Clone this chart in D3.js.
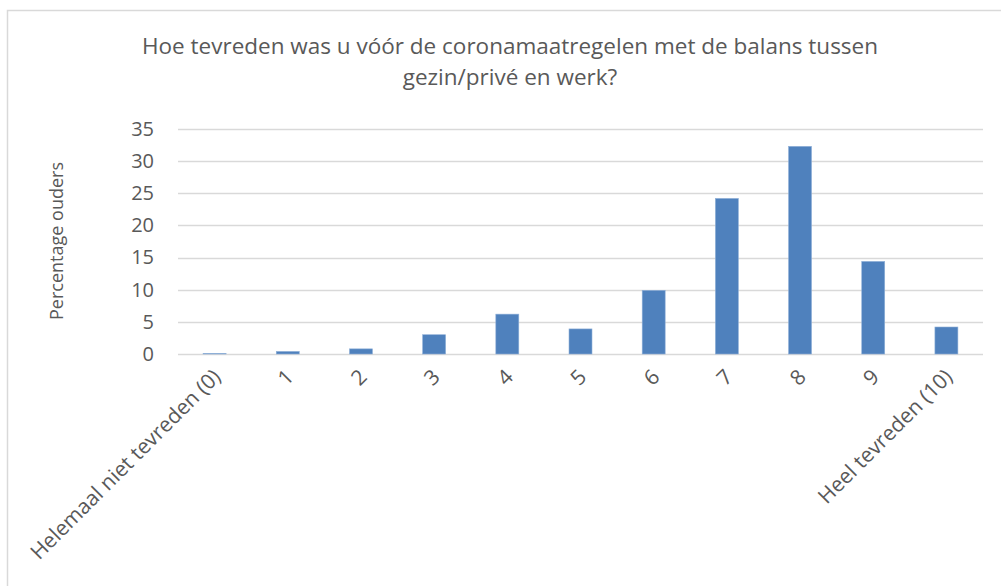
<!DOCTYPE html>
<html>
<head>
<meta charset="utf-8">
<script src="https://cdn.jsdelivr.net/npm/d3@7"></script>
<style>
	body { margin: 0; background: #fff; }
	svg text { font-family: "Open Sans", sans-serif; fill: #595959; }
</style>
</head>
<body>
<svg id="chart" width="1001" height="586"></svg>
<script>
// data
const categories = ["Helemaal niet tevreden (0)", "1", "2", "3", "4", "5", "6", "7", "8", "9", "Heel tevreden (10)"];
const values = [0.1, 0.4, 0.8, 3.0, 6.2, 3.9, 9.9, 24.2, 32.3, 14.4, 4.2];
const yTicks = [0, 5, 10, 15, 20, 25, 30, 35];
const titleLines = ["Hoe tevreden was u vóór de coronamaatregelen met de balans tussen", "gezin/privé en werk?"];
const yTitle = "Percentage ouders";

// definicion
const plot = { left: 178, right: 983, top: 129, bottom: 354 };

const svg = d3.select('#chart');

// chart border
svg.append('rect')
	.attr('x', 7.5)
	.attr('y', 10.5)
	.attr('width', 1020)
	.attr('height', 600)
	.attr('fill', 'none')
	.attr('stroke', '#d9d9d9')
	.attr('stroke-width', 1.5);

const x = d3.scaleBand()
	.domain(categories)
	.range([plot.left, plot.right])
	.paddingInner(0.686)
	.paddingOuter(0.343);

const y = d3.scaleLinear()
	.domain([0, 35])
	.range([plot.bottom, plot.top]);

// title
svg.append('g')
	.selectAll('text')
	.data(titleLines)
	.join('text')
	.attr('x', 510)
	.attr('y', (d, i) => 54 + i * 31)
	.attr('text-anchor', 'middle')
	.style('font-size', '22.5px')
	.text(d => d);

// grid
svg.append('g')
	.selectAll('line')
	.data(yTicks)
	.join('line')
	.attr('x1', plot.left)
	.attr('x2', plot.right)
	.attr('y1', d => Math.round(y(d)) + 0.5)
	.attr('y2', d => Math.round(y(d)) + 0.5)
	.attr('stroke', '#d9d9d9')
	.attr('stroke-width', 1.5);

// y axis labels
const yAxis = svg.append('g')
	.attr('transform', `translate(${plot.left}, 0)`)
	.call(d3.axisLeft(y).tickValues(yTicks).tickSize(0).tickPadding(24));
yAxis.select('.domain').remove();
yAxis.selectAll('text')
	.style('font-size', '20px')
	.attr('fill', '#595959');

svg.append('text')
	.attr('transform', `translate(63, 241) rotate(-90)`)
	.attr('text-anchor', 'middle')
	.style('font-size', '18px')
	.text(yTitle);

// bars
svg.append('g')
	.selectAll('rect')
	.data(values)
	.join('rect')
	.attr('x', (d, i) => x(categories[i]))
	.attr('y', d => y(d))
	.attr('width', x.bandwidth())
	.attr('height', d => y(0) - y(d))
	.attr('fill', '#4f81bd')
	.attr('stroke', '#8fb0d8')
	.attr('stroke-width', 0.6);

// x axis labels
svg.append('g')
	.selectAll('text')
	.data(categories)
	.join('text')
	.attr('transform', d => `translate(${x(d) + x.bandwidth() / 2 + 2}, 373) rotate(-45)`)
	.attr('text-anchor', 'end')
	.attr('dy', '0.35em')
	.style('font-size', '21px')
	.text(d => d);
</script>
</body>
</html>
